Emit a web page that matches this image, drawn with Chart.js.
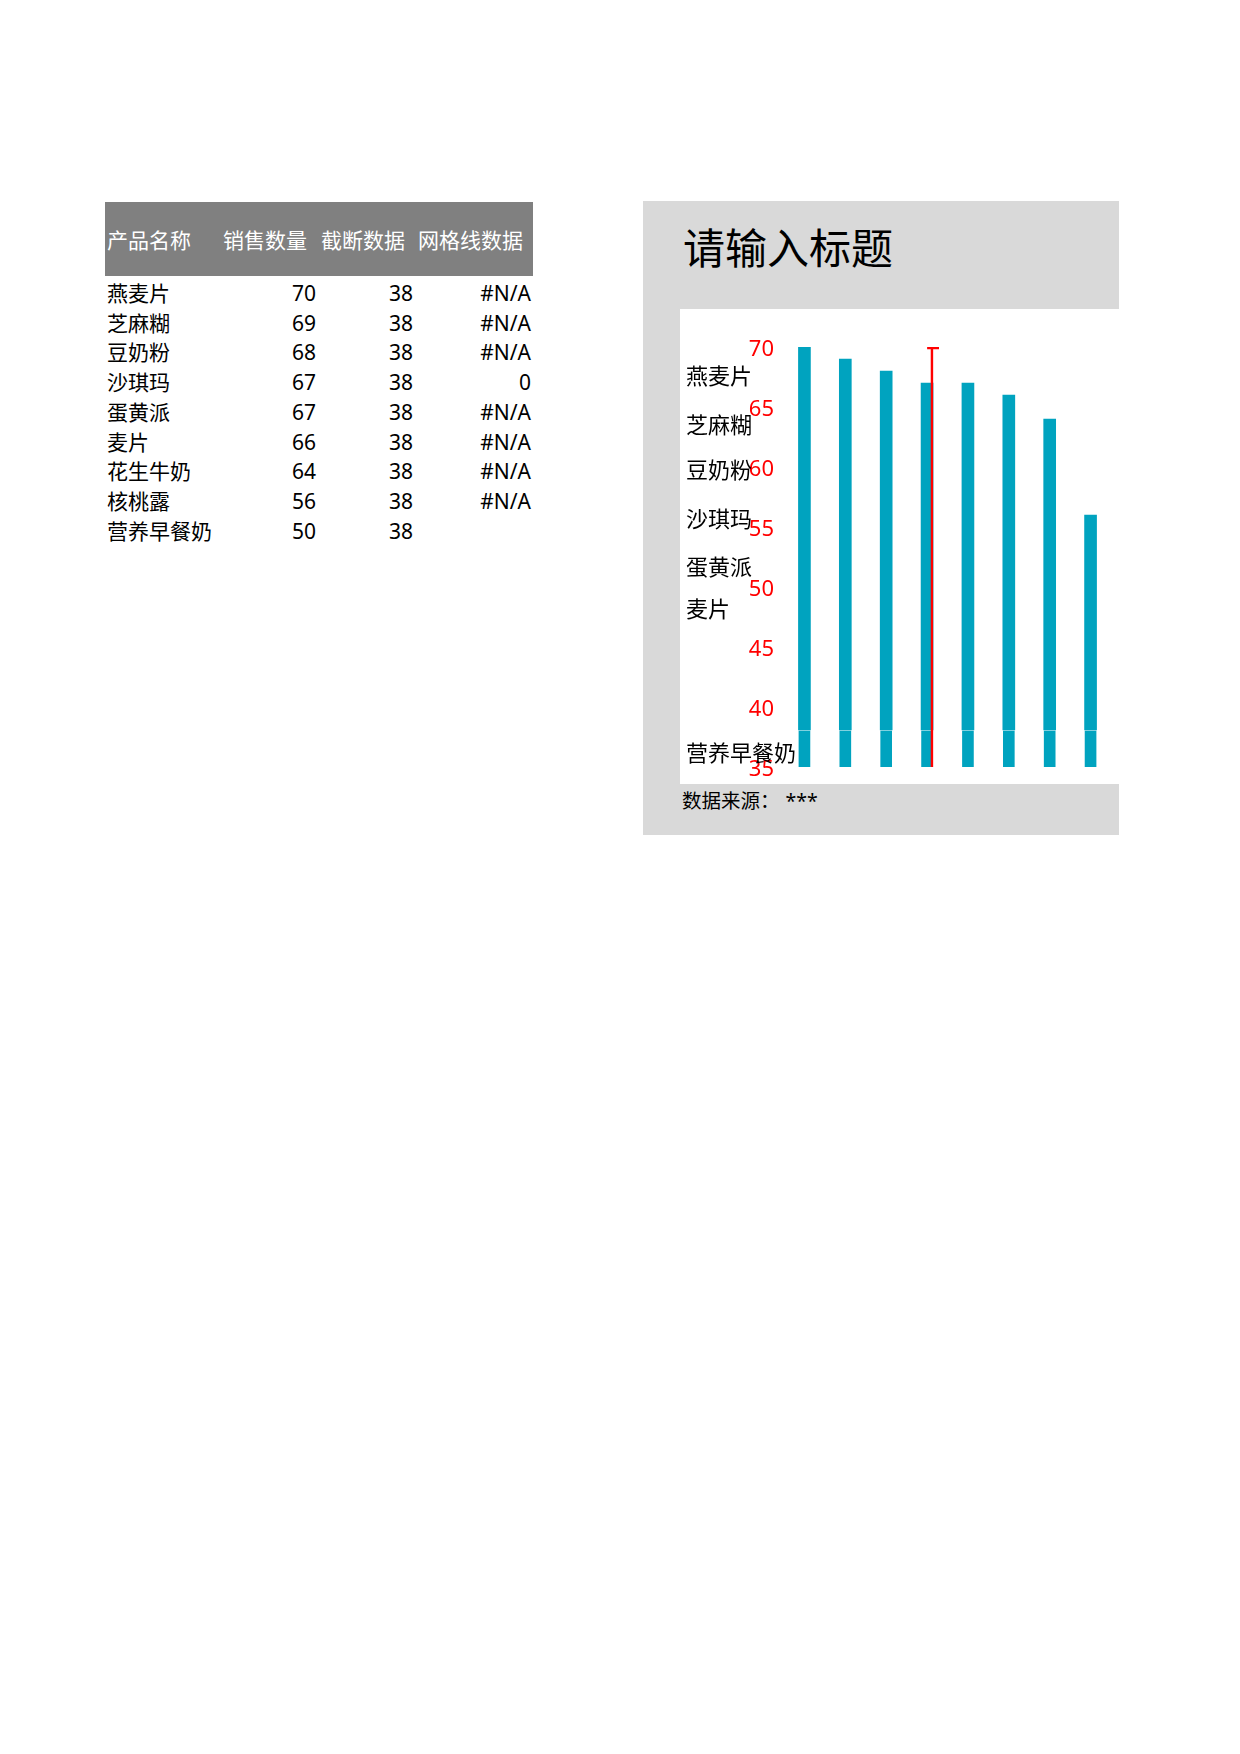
<!DOCTYPE html>
<html lang="zh">
<head>
<meta charset="utf-8">
<title>请输入标题</title>
<script src="https://cdn.jsdelivr.net/npm/chart.js@4.4.1/dist/chart.umd.min.js"></script>
<style>
  body {
    margin: 0;
    width: 1240px;
    height: 1754px;
    background: #fff;
    position: relative;
    font-family: "Noto Sans", "Noto Sans CJK SC", sans-serif;
    color: #000;
  }
  #sheet {
    position: absolute;
    left: 105px;
    top: 202px;
    border-collapse: collapse;
    table-layout: fixed;
    width: 428px;
    font-size: 21px;
  }
  #sheet th {
    background: #808080;
    color: #fff;
    font-weight: normal;
    height: 74px;
    padding: 0 0 0 3px;
    text-align: left;
    white-space: nowrap;
  }
  #sheet th:first-child { padding-left: 2px; }
  #sheet td {
    height: 29.7px;
    line-height: 29.7px;
    padding: 0 2px;
    white-space: nowrap;
  }
  #sheet td.num { text-align: right; }
  #sheet tbody tr:first-child td { padding-top: 3px; }
  #panel {
    position: absolute;
    left: 643px;
    top: 201px;
    width: 476px;
    height: 634px;
    background: #d9d9d9;
  }
  #title {
    position: absolute;
    left: 40px;
    top: 26px;
    font-size: 42px;
    line-height: 42px;
    white-space: nowrap;
  }
  #plot {
    position: absolute;
    left: 37px;
    top: 108px;
    width: 439px;
    height: 475px;
    background: #fff;
  }
  #source {
    position: absolute;
    left: 39px;
    top: 590px;
    font-size: 19.5px;
    line-height: 20px;
    white-space: nowrap;
  }
  #source span { margin-left: 6px; }
</style>
</head>
<body>

<table id="sheet">
  <colgroup>
    <col style="width:115px"><col style="width:98px"><col style="width:97px"><col style="width:118px">
  </colgroup>
  <thead>
    <tr><th>产品名称</th><th>销售数量</th><th>截断数据</th><th>网格线数据</th></tr>
  </thead>
  <tbody id="rows"></tbody>
</table>

<div id="panel">
  <div id="title">请输入标题</div>
  <div id="plot"><canvas id="myChart" width="439" height="475"></canvas></div>
  <div id="source">数据来源：<span>***</span></div>
</div>

<script>
// sheet data
const products = ['燕麦片', '芝麻糊', '豆奶粉', '沙琪玛', '蛋黄派', '麦片', '花生牛奶', '核桃露', '营养早餐奶'];
const sales = [70, 69, 68, 67, 67, 66, 64, 56, 50];
const cutoff = [38, 38, 38, 38, 38, 38, 38, 38, 38];
const gridLines = ['#N/A', '#N/A', '#N/A', 0, '#N/A', '#N/A', '#N/A', '#N/A', ''];

// the chart only covers the first 8 rows
const chartCount = 8;

// value axis
const axisMin = 35;
const axisMax = 70;
const axisStep = 5;

// loose category labels sitting on the left of the plot (y value where each one sits)
const sideLabels = ['燕麦片', '芝麻糊', '豆奶粉', '沙琪玛', '蛋黄派', '麦片', '营养早餐奶'];
const sideLabelLevels = [67.6, 63.5, 59.8, 55.7, 51.7, 48.2, 36.2];

const barColor = '#00a3bf';
const red = '#ff0000';

function fillSheet() {
    const body = document.getElementById('rows');
    products.forEach((name, i) => {
        const tr = document.createElement('tr');
        [name, sales[i], cutoff[i], gridLines[i]].forEach((v, c) => {
            const td = document.createElement('td');
            td.textContent = v;
            if (c > 0) td.className = 'num';
            tr.appendChild(td);
        });
        body.appendChild(tr);
    });
}

const sideLabelPlugin = {
    id: 'sideLabels',
    afterDraw(chart) {
        const ctx = chart.ctx;
        const y = chart.scales.y;
        ctx.save();
        ctx.font = '22px "Noto Sans CJK SC"';
        ctx.fillStyle = '#000';
        ctx.textBaseline = 'middle';
        sideLabels.forEach((t, i) => {
            ctx.fillText(t, 6, y.getPixelForValue(sideLabelLevels[i]));
        });
        ctx.restore();
    }
};

function initChart() {
    const labels = products.slice(0, chartCount);
    const shown = sales.slice(0, chartCount);
    const cuts = cutoff.slice(0, chartCount);
    const grid = gridLines.slice(0, chartCount);
    const marker = grid.map(v => typeof v === 'number' ? [axisMin, axisMax] : null);

    const ctx = document.getElementById('myChart').getContext('2d');
    new Chart(ctx, {
        type: 'bar',
        data: {
            labels: labels,
            datasets: [{
                // part above the break
                label: '销售数量',
                data: shown.map((v, i) => [cuts[i] + 0.1, v]),
                backgroundColor: barColor,
                barThickness: 12,
                grouped: false,
                order: 2
            }, {
                // part below the break
                label: '截断数据',
                data: cuts.map(c => [axisMin, c]),
                backgroundColor: barColor,
                barThickness: 11,
                grouped: false,
                order: 2
            }, {
                // red marker: vertical stroke on the right edge of the bar
                label: '网格线数据',
                data: marker,
                backgroundColor: 'rgba(0,0,0,0)',
                borderColor: red,
                borderWidth: { top: 0, right: 2, bottom: 0, left: 0 },
                borderSkipped: false,
                barThickness: 12,
                grouped: false,
                order: 1
            }, {
                // empty helper so the cap below lands in the right-hand slot
                label: '',
                data: grid.map(() => null),
                barThickness: 12,
                order: 0
            }, {
                // red marker: cap centred on the stroke
                label: '网格线数据',
                data: marker,
                backgroundColor: 'rgba(0,0,0,0)',
                borderColor: red,
                borderWidth: { top: 2, right: 0, bottom: 0, left: 0 },
                borderSkipped: false,
                barThickness: 12,
                order: 0
            }]
        },
        options: {
            responsive: false,
            animation: false,
            events: [],
            layout: {
                padding: { top: 38, bottom: 17, right: 8, left: 0 }
            },
            plugins: {
                legend: { display: false },
                tooltip: { enabled: false }
            },
            scales: {
                x: {
                    display: false
                },
                y: {
                    min: axisMin,
                    max: axisMax,
                    grid: { display: false, drawTicks: true, tickLength: 10 },
                    border: { display: false },
                    ticks: {
                        stepSize: axisStep,
                        color: red,
                        padding: 0,
                        labelOffset: 3,
                        font: { family: '"Noto Sans"', size: 22 }
                    },
                    afterFit(scale) {
                        scale.width = 104;
                    }
                }
            }
        },
        plugins: [sideLabelPlugin]
    });
}

fillSheet();
initChart();
</script>
</body>
</html>
